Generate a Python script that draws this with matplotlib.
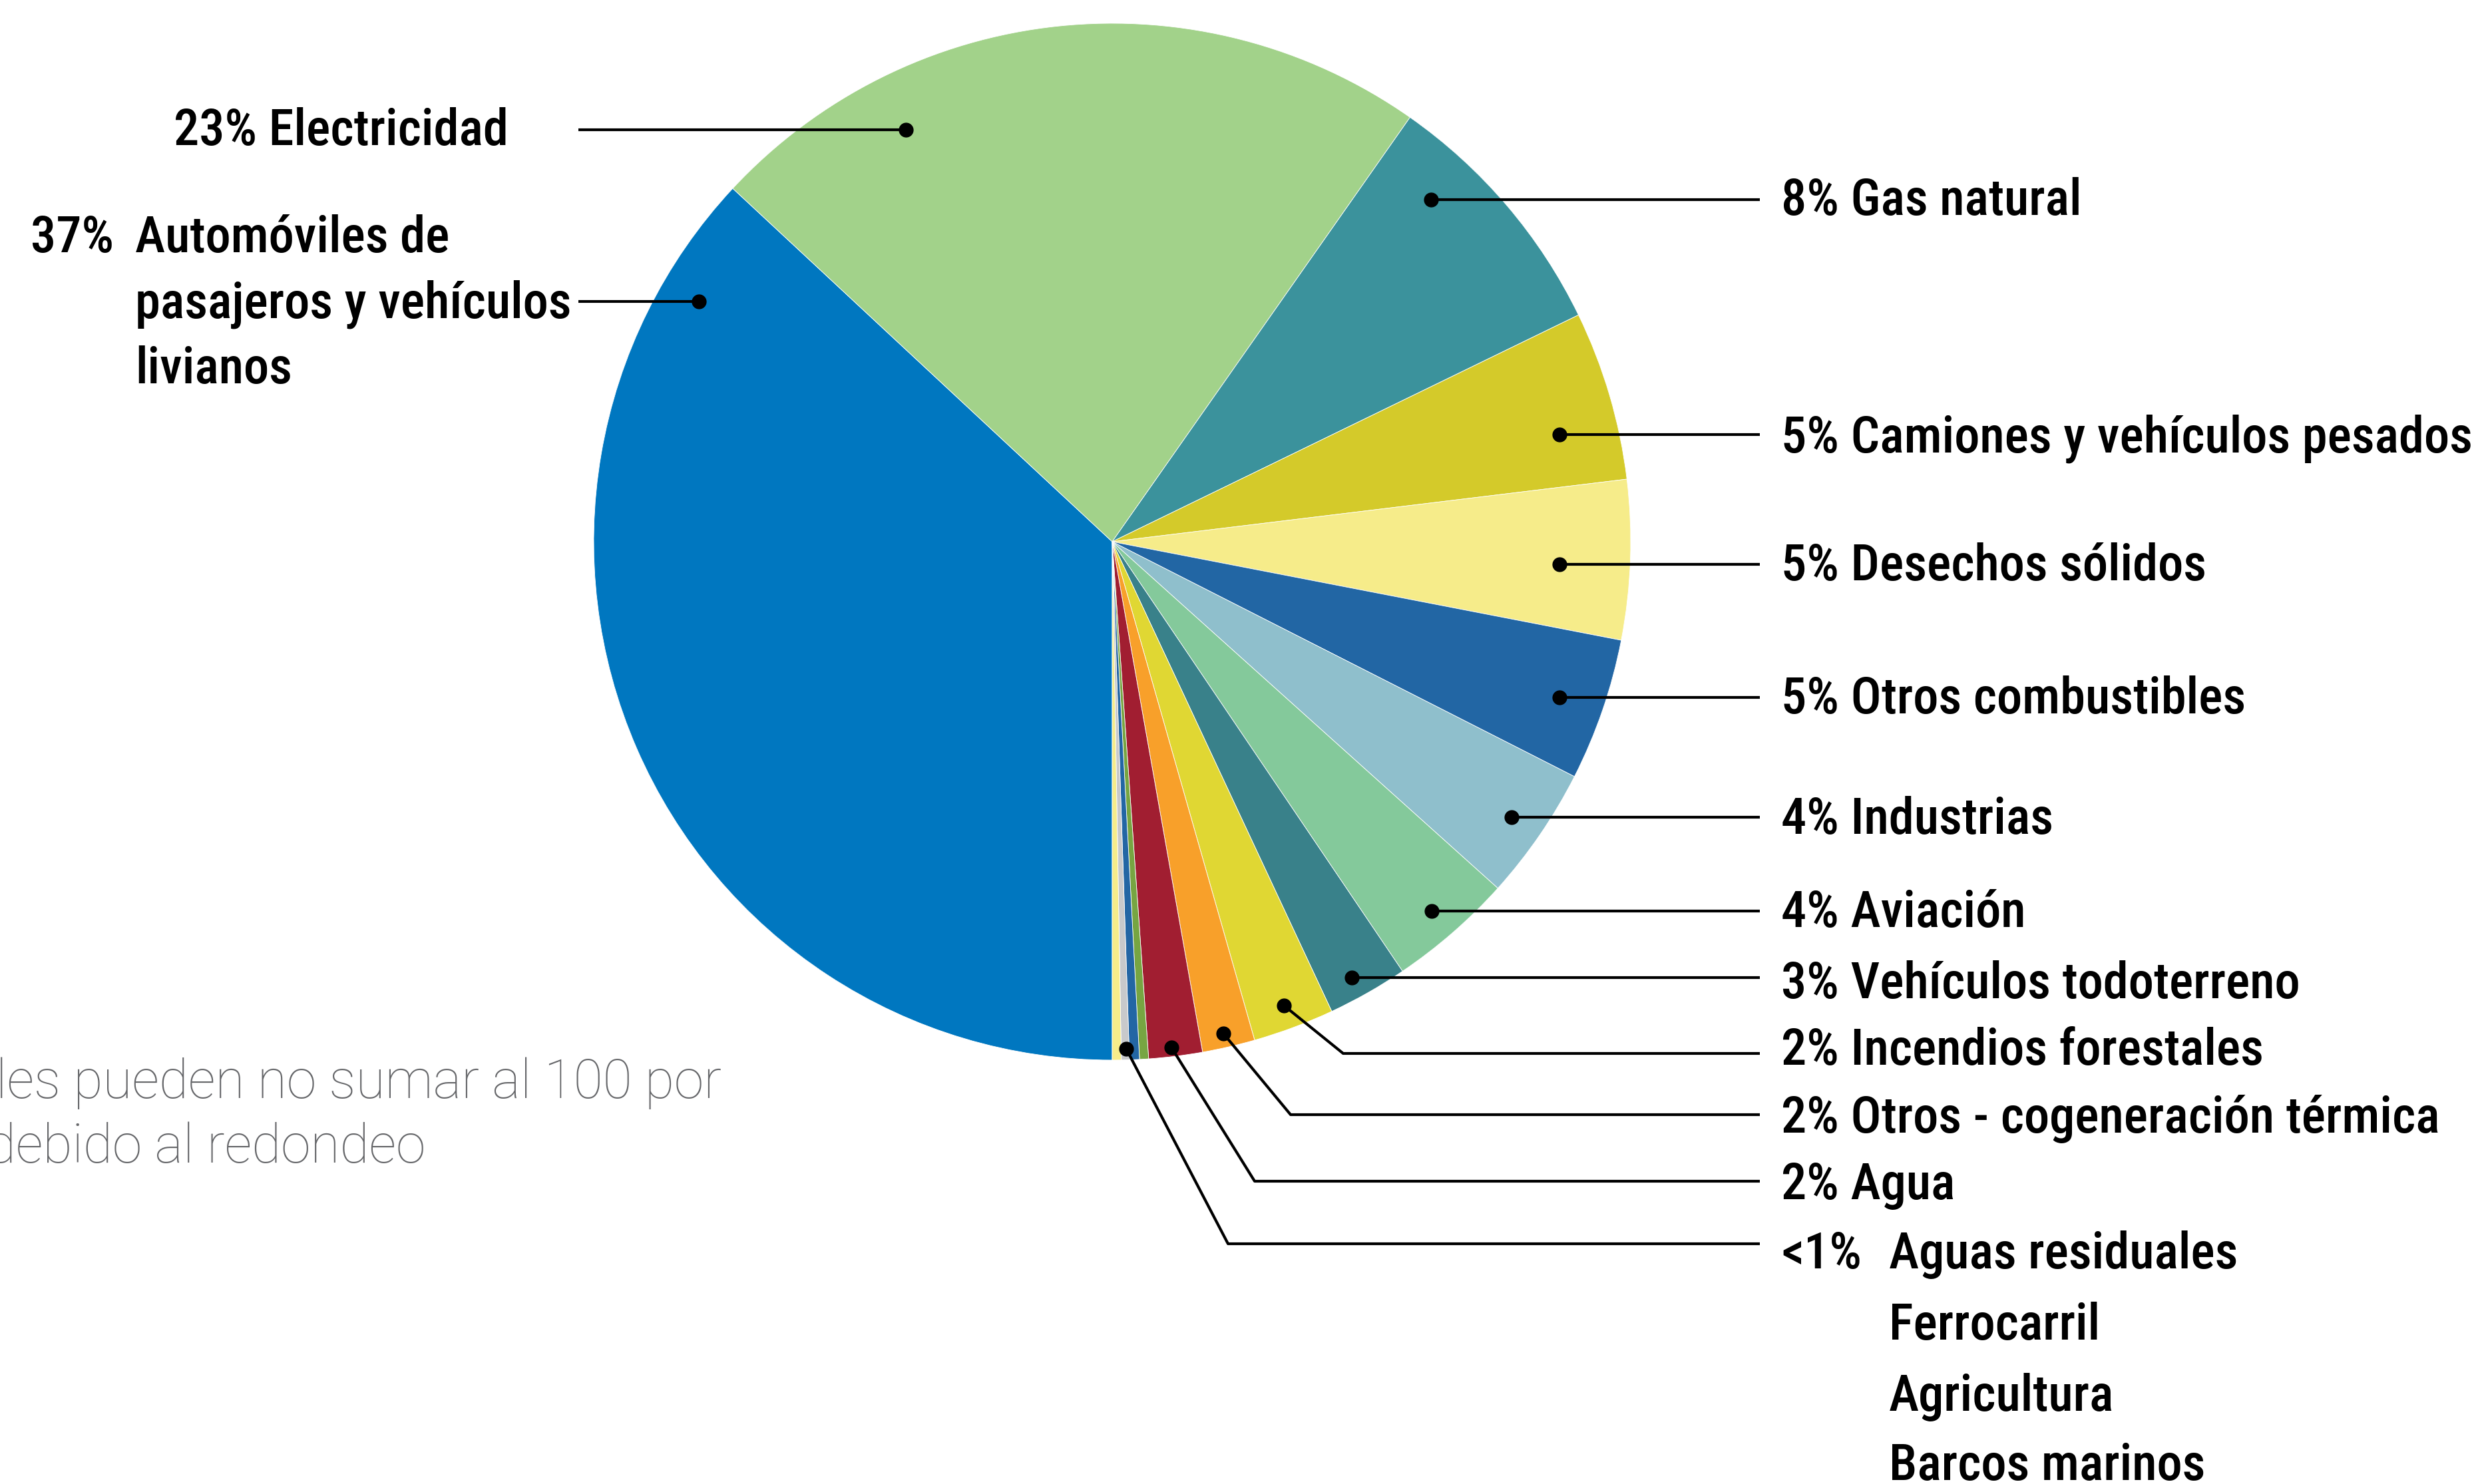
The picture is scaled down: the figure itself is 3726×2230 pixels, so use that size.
"""
Pie chart of emission sources (Spanish labels) with leader lines.
"""
import matplotlib
matplotlib.use('Agg')
import matplotlib.pyplot as plt
from matplotlib import font_manager

# --- data ---
sources = ['Automóviles de pasajeros y vehículos livianos', 'Electricidad', 'Gas natural',
           'Camiones y vehículos pesados', 'Desechos sólidos', 'Otros combustibles',
           'Industrias', 'Aviación', 'Vehículos todoterreno', 'Incendios forestales',
           'Otros - cogeneración térmica', 'Agua', 'Aguas residuales', 'Ferrocarril',
           'Agricultura', 'Barcos marinos']
shares = [36.94, 22.81, 8.06, 5.28, 4.97, 4.44, 4.17, 3.89, 2.50, 2.53,
          1.64, 1.67, 0.28, 0.31, 0.25, 0.28]
colors = ['#0077c0', '#a2d28a', '#3b929c', '#d4ca2a', '#f6ec8a', '#2266a4',
          '#8fbfcc', '#84c99b', '#39818a', '#e0d733', '#f8a02a', '#a11e31',
          '#77a542', '#2366a4', '#c8c9cb', '#f6ec8a']

# right-hand labels
right_labels = ['8% Gas natural', '5% Camiones y vehículos pesados', '5% Desechos sólidos',
                '5% Otros combustibles', '4% Industrias', '4% Aviación',
                '3% Vehículos todoterreno', '2% Incendios forestales',
                '2% Otros - cogeneración térmica', '2% Agua']
small_pct = '<1%'
small_names = ['Aguas residuales', 'Ferrocarril', 'Agricultura', 'Barcos marinos']
note_lines = ['Los totales pueden no sumar al 100 por', 'ciento debido al redondeo']
note_hidden = ['Los tota', 'ciento ']   # part of each note line that lies left of the picture

# --- layout (figure pixels, y downwards) ---
W, H = 3726, 2230
cx, cy, R = 1671, 814, 779

# leader lines: dot, elbow x, line y, text baseline
r_dot = [(2150, 300), (2343, 653), (2343, 848), (2343, 1048), (2271, 1228), (2151, 1369),
         (2031, 1469), (1929, 1511), (1838, 1553), (1760, 1574), (1692, 1576)]
r_elbow = [2150, 2343, 2343, 2343, 2271, 2151, 2031, 2018, 1939, 1885, 1845]
r_line_y = [300, 653, 848, 1048, 1228, 1369, 1469, 1583, 1675, 1775, 1869]
r_base = [323, 680, 872, 1072, 1253, 1393, 1500, 1600, 1702, 1802, 1906]
small_base = [1906, 2013, 2120, 2224]
line_end, text_x, indent_x = 2644, 2676, 2838


def weight_num(w):
    return w if isinstance(w, int) else font_manager.weight_dict.get(w, 400)


entries = [(f.name, weight_num(f.weight)) for f in font_manager.fontManager.ttflist]
label_font, label_weight = next(
    c for c in [('Roboto Condensed', 500), ('Roboto Condensed', 600),
                ('Liberation Sans Narrow', 700), ('Roboto Condensed', 700),
                ('DejaVu Sans', 700)] if c in entries)
names = {e[0] for e in entries}
note_font = next(f for f in ['Roboto', 'Lato', 'Liberation Sans', 'DejaVu Sans'] if f in names)

fig = plt.figure(figsize=(W / 100, H / 100), dpi=100)
ax = fig.add_axes([0, 0, 1, 1])

ax.pie(shares, colors=colors, startangle=90, counterclock=True,
       center=(cx, cy), radius=R,
       wedgeprops=dict(edgecolor='white', linewidth=0.6))
ax.set_aspect('auto')
ax.set_xlim(0, W)
ax.set_ylim(H, 0)
ax.axis('off')

lw = 3.0
fs = 55
txt = dict(fontsize=fs, family=label_font, weight=label_weight, va='baseline', color='black')

# right side
for i in range(len(r_dot)):
    dx, dy = r_dot[i]
    ax.plot([dx, r_elbow[i], line_end], [dy, r_line_y[i], r_line_y[i]],
            color='black', lw=lw, solid_capstyle='butt', zorder=4)
    ax.plot(dx, dy, 'o', color='black', ms=15, zorder=5)
for i, lab in enumerate(right_labels):
    ax.text(text_x, r_base[i], lab, **txt)
ax.text(text_x, small_base[0], small_pct, **txt)
for name, yb in zip(small_names, small_base):
    ax.text(indent_x, yb, name, **txt)

# left side
ax.plot([869, 1361], [195, 195], color='black', lw=lw, solid_capstyle='butt', zorder=4)
ax.plot(1361, 195, 'o', color='black', ms=15, zorder=5)
ax.text(261, 218, '23% Electricidad', **txt)

ax.plot([869, 1050], [453, 453], color='black', lw=lw, solid_capstyle='butt', zorder=4)
ax.plot(1050, 453, 'o', color='black', ms=15, zorder=5)
ax.text(46, 379, '37%', **txt)
for line, yb in zip(['Automóviles de', 'pasajeros y vehículos', 'livianos'], [379, 478, 576]):
    ax.text(203, yb, line, **txt)

# note, cut by the left edge: place so the hidden prefix falls off the picture
renderer = fig.canvas.get_renderer()
note = dict(fontsize=58, family=note_font, weight='light', color='#66676a', va='baseline')
for line, hidden, x_vis, yb in zip(note_lines, note_hidden, [-6, -20], [1650, 1747]):
    probe = ax.text(0, 0, hidden, **note)
    w_hidden = probe.get_window_extent(renderer).width
    probe.remove()
    ax.text(x_vis - w_hidden, yb, line, **note)

fig.savefig('out.png', dpi=100, facecolor='white')
